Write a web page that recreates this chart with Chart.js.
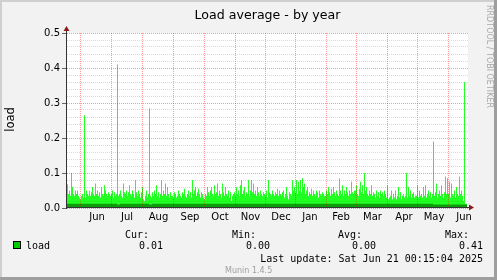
<!DOCTYPE html>
<html><head><meta charset="utf-8">
<script src="https://cdn.jsdelivr.net/npm/chart.js@4"></script>
<style>html,body{margin:0;padding:0;background:#f2f2f2;}canvas{display:block;}</style>
</head><body>
<canvas id="c" width="497" height="280"></canvas>
<script>
// ---- data (x = consolidated sample index, one per plot column, from mid-May 2024) ----
const monthLabels = ['Jun','Jul','Aug','Sep','Oct','Nov','Dec','Jan','Feb','Mar','Apr','May','Jun'];
const monthStartSamples = [13,44,75,106,137,168,198,228,259,289,320,350,381];
const monthLabelSamples = [30,60,91.5,123,153,183.5,214,243,274,305.5,337,367,397];
const yTickLabels = ['0.0','0.1','0.2','0.3','0.4','0.5'];

// peak load per sample (bright green area)
const loadMax = [].concat(
  [0.045,0.068,0.04,0.05,0.035,0.10,0.06,0.04,0.035,0.05,0.04,0.05,0.035],                       // May
  [0.03,0.025,0.035,0.04,0.03,0.265,0.03,0.05,0.04,0.035,0.05,0.035,0.045,0.06,0.04,0.035,0.07,0.04,0.05,0.035,0.045,0.03,0.06,0.04,0.035,0.065,0.05,0.04,0.035,0.045,0.04], // Jun
  [0.035,0.04,0.05,0.03,0.045,0.035,0.04,0.41,0.035,0.04,0.05,0.035,0.03,0.07,0.045,0.04,0.05,0.035,0.045,0.065,0.04,0.035,0.05,0.04,0.03,0.08,0.045,0.035,0.05,0.04,0.03], // Jul
  [0.045,0.06,0.025,0.02,0.035,0.05,0.03,0.04,0.285,0.035,0.03,0.045,0.035,0.05,0.04,0.065,0.035,0.045,0.03,0.04,0.08,0.035,0.05,0.04,0.07,0.035,0.06,0.04,0.03,0.045,0.035], // Aug
  [0.035,0.03,0.045,0.04,0.03,0.035,0.05,0.04,0.035,0.03,0.045,0.04,0.055,0.035,0.03,0.04,0.05,0.035,0.045,0.03,0.08,0.04,0.05,0.06,0.035,0.045,0.055,0.04,0.03,0.045,0.04], // Sep
  [0.03,0.025,0.04,0.035,0.06,0.045,0.035,0.05,0.06,0.04,0.035,0.065,0.04,0.045,0.07,0.035,0.05,0.04,0.03,0.07,0.045,0.035,0.06,0.04,0.035,0.05,0.03,0.045,0.02,0.035,0.04], // Oct
  [0.045,0.035,0.06,0.04,0.05,0.035,0.065,0.08,0.04,0.05,0.06,0.035,0.045,0.04,0.08,0.035,0.05,0.08,0.045,0.07,0.04,0.05,0.035,0.06,0.045,0.035,0.05,0.04,0.035,0.045], // Nov
  [0.04,0.035,0.05,0.03,0.08,0.045,0.04,0.035,0.05,0.04,0.035,0.045,0.04,0.055,0.035,0.05,0.04,0.035,0.045,0.05,0.03,0.04,0.06,0.035,0.025,0.045,0.04,0.035,0.08,0.05], // Dec
  [0.06,0.045,0.08,0.04,0.075,0.05,0.08,0.045,0.085,0.06,0.07,0.04,0.05,0.06,0.035,0.045,0.04,0.055,0.035,0.05,0.04,0.035,0.05,0.045,0.03,0.05,0.04,0.035,0.045,0.04,0.035], // Jan
  [0.035,0.05,0.04,0.06,0.045,0.035,0.055,0.04,0.06,0.045,0.035,0.05,0.04,0.035,0.085,0.05,0.04,0.065,0.035,0.05,0.04,0.06,0.045,0.035,0.05,0.04,0.075,0.045,0.04,0.05], // Feb
  [0.05,0.065,0.04,0.035,0.055,0.075,0.045,0.065,0.04,0.1,0.05,0.06,0.04,0.035,0.05,0.04,0.065,0.035,0.045,0.04,0.03,0.05,0.035,0.045,0.03,0.05,0.04,0.045,0.035,0.05,0.04], // Mar
  [0.03,0.065,0.025,0.03,0.035,0.05,0.025,0.04,0.03,0.05,0.025,0.035,0.06,0.03,0.045,0.025,0.035,0.04,0.03,0.035,0.1,0.03,0.06,0.035,0.05,0.03,0.04,0.045,0.03,0.035], // Apr
  [0.035,0.065,0.03,0.05,0.035,0.04,0.03,0.06,0.035,0.065,0.03,0.04,0.05,0.035,0.045,0.03,0.04,0.19,0.035,0.045,0.07,0.03,0.04,0.05,0.035,0.065,0.04,0.03,0.045,0.09,0.04], // May
  [0.085,0.04,0.075,0.03,0.07,0.04,0.035,0.05,0.03,0.06,0.04,0.035,0.09,0.04,0.05,0.035,0.02,0.36,0.012] // Jun
);
// average load (dark green band at the bottom)
const avgSamples = [0,    50,    53,    82,    85,    366,   369,   400];
const avgValues  = [0.01, 0.012, 0.01,  0.012, 0.01,  0.012, 0.01,  0.01];

const statLabels = ['Cur:','Min:','Avg:','Max:'];
const statValues = ['0.01','0.00','0.00','0.41'];

// ---- chart ----
const isMajor = v => Math.abs(v*10 - Math.round(v*10)) < 1e-6;
const maxPoints = loadMax.map((v,i)=>({x:i,y:v})).concat([{x:loadMax.length, y:loadMax[loadMax.length-1]}]);
const avgPoints = avgSamples.map((d,i)=>({x:d,y:avgValues[i]}));

const deco = {
  id:'deco',
  beforeDraw(chart){
    const ctx=chart.ctx, a=chart.chartArea;
    ctx.save();
    ctx.fillStyle='#f2f2f2'; ctx.fillRect(0,0,497,280);
    ctx.fillStyle='#cfcfcf'; ctx.fillRect(0,0,497,2); ctx.fillRect(0,0,2,280);
    ctx.fillStyle='#9e9e9e'; ctx.fillRect(0,277,497,3); ctx.fillRect(494,0,3,280);
    ctx.fillStyle='#ffffff'; ctx.fillRect(a.left,a.top,a.right-a.left,a.bottom-a.top);
    ctx.restore();
  },
  afterDraw(chart){
    const ctx=chart.ctx, a=chart.chartArea;
    ctx.save();
    // axes
    ctx.strokeStyle='#333'; ctx.lineWidth=1;
    ctx.beginPath(); ctx.moveTo(a.left-0.5,a.bottom+1); ctx.lineTo(a.left-0.5,a.top-4); ctx.stroke();
    ctx.beginPath(); ctx.moveTo(a.left-1,a.bottom-0.5); ctx.lineTo(a.right+3,a.bottom-0.5); ctx.stroke();
    ctx.fillStyle='#8b1a1a';
    ctx.beginPath(); ctx.moveTo(a.left-0.5,a.top-7); ctx.lineTo(a.left-3.5,a.top-2); ctx.lineTo(a.left+2.5,a.top-2); ctx.closePath(); ctx.fill();
    ctx.beginPath(); ctx.moveTo(a.right+6,a.bottom-0.5); ctx.lineTo(a.right+1,a.bottom-3.5); ctx.lineTo(a.right+1,a.bottom+2.5); ctx.closePath(); ctx.fill();
    // title
    ctx.fillStyle='#000'; ctx.font='12.6px "DejaVu Sans"'; ctx.textAlign='center'; ctx.textBaseline='alphabetic';
    ctx.fillText('Load average - by year',(a.left+a.right)/2,18.5);
    // vertical credit
    ctx.save(); ctx.translate(487,5); ctx.rotate(Math.PI/2);
    ctx.fillStyle='#a8a8a8'; ctx.font='8px "DejaVu Sans"'; ctx.textAlign='left'; ctx.textBaseline='alphabetic';
    ctx.fillText('RRDTOOL / TOBI OETIKER',0,0); ctx.restore();
    // y label
    ctx.save(); ctx.translate(13.5,119.5); ctx.rotate(-Math.PI/2);
    ctx.fillStyle='#000'; ctx.font='11.5px "DejaVu Sans"'; ctx.textAlign='center'; ctx.textBaseline='alphabetic';
    ctx.fillText('load',0,0); ctx.restore();
    // legend
    ctx.fillStyle='#00cc00'; ctx.fillRect(13.5,241.5,7,7);
    ctx.strokeStyle='#000'; ctx.strokeRect(13.5,241.5,7,7);
    ctx.fillStyle='#000'; ctx.font='10px "DejaVu Sans Mono"'; ctx.textAlign='left';
    ctx.fillText('load',26,248.5);
    const labR=[149,256,362,469], valR=[163,270,376,483];
    ctx.textAlign='right';
    statLabels.forEach((s,i)=>ctx.fillText(s,labR[i],237.5));
    statValues.forEach((s,i)=>ctx.fillText(s,valR[i],248.5));
    ctx.fillText('Last update: Sat Jun 21 00:15:04 2025',483,261.5);
    ctx.fillStyle='#a0a0a0'; ctx.font='8px "DejaVu Sans"'; ctx.textAlign='left';
    ctx.fillText('Munin 1.4.5',225,272.5);
    ctx.restore();
  }
};

new Chart(document.getElementById('c'), {
  type:'line',
  data:{ datasets:[
    { label:'avg', data:avgPoints, stepped:'after', fill:'origin', backgroundColor:'#0c9c0c', borderColor:'rgba(0,0,0,0)', borderWidth:0, pointRadius:0, xAxisID:'x', yAxisID:'y' },
    { label:'load', data:maxPoints, stepped:'after', fill:'origin', backgroundColor:'#22ff22', borderColor:'rgba(0,0,0,0)', borderWidth:0, pointRadius:0, xAxisID:'x', yAxisID:'y' }
  ]},
  options:{
    responsive:false, animation:false, devicePixelRatio:1,
    layout:{ padding:{ top:33, right:29, left:0, bottom:0 } },
    plugins:{ legend:{display:false}, tooltip:{enabled:false} },
    scales:{
      x:{ type:'linear', min:0, max:401, position:'bottom',
        afterBuildTicks(s){ s.ticks = monthStartSamples.map(v=>({value:v})); },
        afterFit(s){ s.height = 0; },
        ticks:{ display:false },
        grid:{ color:'rgba(255,0,0,0.4)', drawTicks:false, lineWidth:1, z:1 },
        border:{ display:false, dash:[1,1] } },
      x2:{ type:'linear', min:0, max:401, position:'bottom',
        afterBuildTicks(s){ s.ticks = monthLabelSamples.map(v=>({value:v})); },
        afterFit(s){ s.height = 72; },
        ticks:{ autoSkip:false, maxRotation:0, padding:3, color:'#000', font:{family:'DejaVu Sans', size:10},
          callback:(v,i)=>monthLabels[i] },
        grid:{ display:false, drawTicks:false },
        border:{ display:false } },
      y:{ min:0, max:0.5,
        afterFit(s){ s.width = 67; },
        ticks:{ stepSize:0.02, autoSkip:false, padding:2, color:'#000', font:{family:'DejaVu Sans', size:10},
          callback:v=> isMajor(v) ? yTickLabels[Math.round(v*10)] : '' },
        grid:{ color:c=> isMajor(c.tick.value) ? 'rgba(255,0,0,0.4)' : 'rgba(128,128,128,0.3)',
          tickColor:c=> isMajor(c.tick.value) ? '#666' : 'rgba(0,0,0,0)', tickLength:5, lineWidth:1, z:1 },
        border:{ display:false, dash:[1,1] } }
    }
  },
  plugins:[deco]
});
</script>
</body></html>
